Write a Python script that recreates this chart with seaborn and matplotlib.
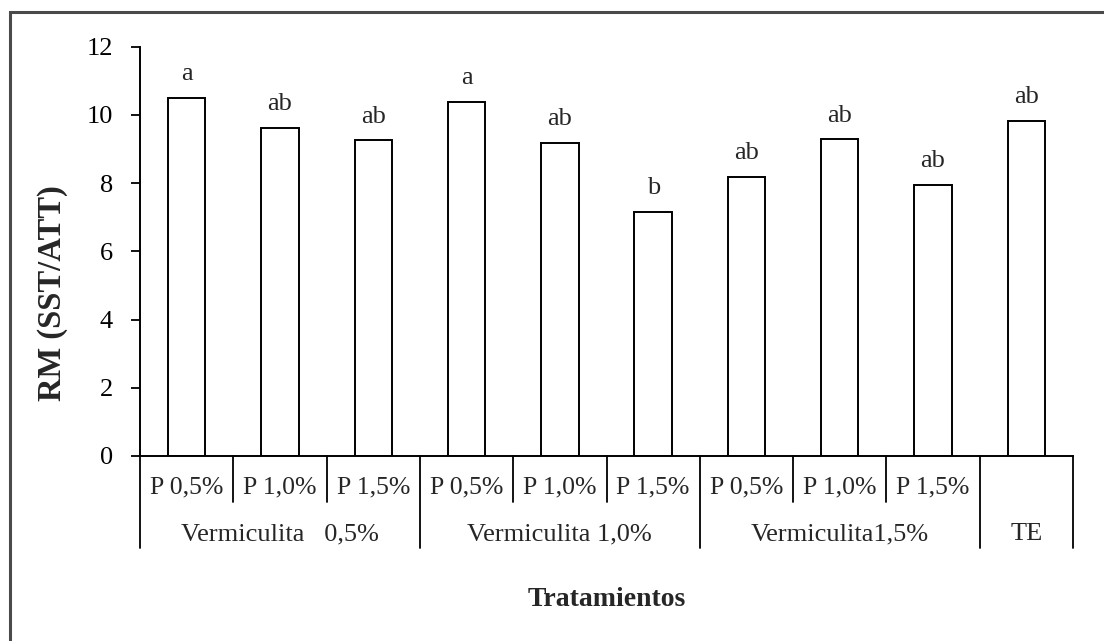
import matplotlib
matplotlib.use("Agg")
import matplotlib.pyplot as plt
import matplotlib.transforms as mtransforms
from matplotlib.patches import Rectangle
import seaborn as sns
import pandas as pd

# Treatment levels (inner = P dose, outer = vermiculite dose)
sub_labels = ["P 0,5%", "P 1,0%", "P 1,5%",
              "P 0,5%", "P 1,0%", "P 1,5%",
              "P 0,5%", "P 1,0%", "P 1,5%",
              ""]
group_labels = ["Vermiculita   0,5%", "Vermiculita 1,0%", "Vermiculita1,5%", "TE"]
group_sizes = [3, 3, 3, 1]
rm_values = [10.50, 9.62, 9.26, 10.38, 9.18, 7.16, 8.18, 9.28, 7.95, 9.83]
letters = ["a", "ab", "ab", "a", "ab", "b", "ab", "ab", "ab", "ab"]
y_ticks = [0, 2, 4, 6, 8, 10, 12]

sns.set_theme(style="white")
plt.rcParams["font.family"] = ["Liberation Serif", "DejaVu Serif"]

W, H = 1104, 641
fig = plt.figure(figsize=(W / 100, H / 100), dpi=100)
fig.patch.set_facecolor("white")

ax_left, ax_right = 140 / W, 1073 / W
ax_top_px, ax_bot_px = 46.7, 456
ax = fig.add_axes([ax_left, 1 - ax_bot_px / H, ax_right - ax_left,
                   (ax_bot_px - ax_top_px) / H])

df = pd.DataFrame({"pos": [str(i) for i in range(len(rm_values))],
                   "rm": rm_values})
sns.barplot(data=df, x="pos", y="rm", ax=ax, color="white",
            edgecolor="black", linewidth=1.4, width=0.4, saturation=1)

ax.set_ylim(0, 12)
ax.set_xlim(-0.5, len(rm_values) - 0.5)
ax.set_yticks(y_ticks)
ax.set_yticklabels([str(t) for t in y_ticks], fontsize=19)
ax.tick_params(axis="y", direction="out", length=6.5, width=1.3, pad=13,
               colors="black", left=True)
ax.tick_params(axis="x", bottom=False, labelbottom=False)
ax.set_xlabel("")
ax.set_ylabel("")
for side in ("top", "right"):
    ax.spines[side].set_visible(False)
for side in ("left", "bottom"):
    ax.spines[side].set_color("black")
    ax.spines[side].set_linewidth(1.4)

# Significance letters above bars
for i, (v, lab) in enumerate(zip(rm_values, letters)):
    ax.annotate(lab, xy=(i, v), xytext=(0, 9), textcoords="offset points",
                ha="center", va="bottom", fontsize=19)

# Two-level category axis
trans = mtransforms.blended_transform_factory(ax.transData, ax.transAxes)
axh = ax_bot_px - ax_top_px
sub_len = 46 / axh
grp_len = 92 / axh

bounds = [-0.5]
for n in group_sizes:
    bounds.append(bounds[-1] + n)
for b in bounds:
    ax.plot([b, b], [0, -grp_len], transform=trans, color="black",
            lw=1.3, clip_on=False)
start = -0.5
for n in group_sizes:
    for k in range(1, n):
        xb = start + k
        ax.plot([xb, xb], [0, -sub_len], transform=trans, color="black",
                lw=1.3, clip_on=False)
    start += n

for i, lab in enumerate(sub_labels):
    ax.text(i, -31 / axh, lab, transform=trans, ha="center", va="center",
            fontsize=18.5)
for g, lab in enumerate(group_labels):
    mid = (bounds[g] + bounds[g + 1]) / 2
    ax.text(mid, -78 / axh, lab, transform=trans, ha="center", va="center",
            fontsize=19)

# Axis titles
fig.text(53 / W, 1 - 293 / H, "RM (SST/ATT)", rotation=90, ha="center",
         va="center", fontsize=23.5, fontweight="bold")
fig.text(607 / W, 1 - 599 / H, "Tratamientos", ha="center", va="center",
         fontsize=20, fontweight="bold")

# Chart-area frame
fig.patches.append(Rectangle((10 / W, -0.2), 1.3, 1.2 - 12 / H,
                             transform=fig.transFigure, fill=False,
                             edgecolor="#4a4a4a", linewidth=2.2,
                             zorder=10))

fig.savefig("out.png", dpi=100, facecolor="white")
